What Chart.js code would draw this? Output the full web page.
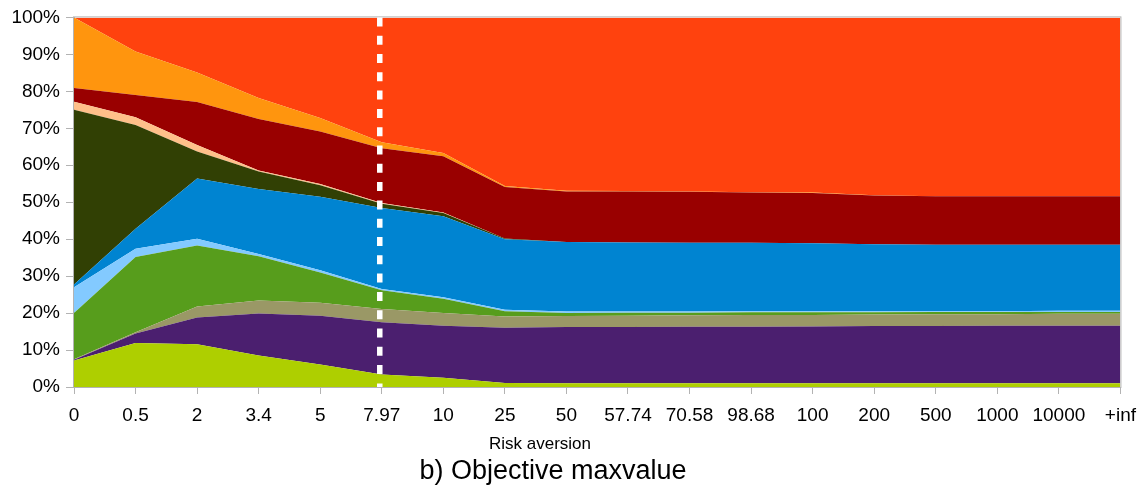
<!DOCTYPE html>
<html>
<head>
<meta charset="utf-8">
<script src="https://cdn.jsdelivr.net/npm/chart.js@4.4.1/dist/chart.umd.min.js"></script>
<style>
  html, body { margin: 0; padding: 0; background: #fff; }
  #wrap { width: 1146px; height: 490px; position: relative; }
</style>
</head>
<body>
<div id="wrap"><canvas id="graph"></canvas></div>
<script>
// categories (x axis)
var riskAversion = ["0", "0.5", "2", "3.4", "5", "7.97", "10", "25", "50",
  "57.74", "70.58", "98.68", "100", "200", "500", "1000", "10000", "+inf"];
var markerAt = "7.97";
var xTitle = "Risk aversion";
var chartTitle = "b) Objective maxvalue";

// shares in %, bottom to top
var lime      = [7.2, 11.9, 11.6, 8.5, 6.1, 3.4, 2.5, 1.1, 1.0, 1.0, 1.0, 1.0, 1.0, 1.0, 1.0, 1.0, 1.0, 1.0];
var purple    = [0.2, 2.6, 7.2, 11.4, 13.2, 14.1, 14.1, 14.9, 15.2, 15.2, 15.3, 15.3, 15.4, 15.5, 15.5, 15.6, 15.6, 15.6];
var khaki     = [0.1, 0.3, 3.0, 3.5, 3.5, 3.6, 3.4, 3.1, 3.0, 3.1, 3.1, 3.2, 3.1, 3.1, 3.2, 3.1, 3.2, 3.2];
var green     = [12.5, 20.4, 16.5, 12.0, 8.2, 5.1, 3.9, 1.4, 0.8, 0.8, 0.7, 0.7, 0.7, 0.6, 0.6, 0.6, 0.5, 0.5];
var lightBlue = [7.0, 2.2, 1.8, 0.6, 0.6, 0.3, 0.4, 0.4, 0.4, 0.3, 0.3, 0.3, 0.3, 0.3, 0.2, 0.2, 0.3, 0.3];
var blue      = [0.7, 5.4, 16.3, 17.6, 19.9, 21.9, 21.9, 19.1, 18.8, 18.7, 18.6, 18.5, 18.4, 18.1, 18.0, 18.0, 17.9, 17.9];
var darkOlive = [47.3, 28.1, 7.3, 4.7, 3.1, 1.2, 0.9, 0.2, 0, 0, 0, 0, 0, 0, 0, 0, 0, 0];
var peach     = [2.2, 2.1, 1.8, 0.3, 0.3, 0.2, 0.1, 0, 0, 0, 0, 0, 0, 0, 0, 0, 0, 0];
var darkRed   = [3.7, 6.0, 11.6, 13.9, 14.2, 14.8, 15.2, 13.9, 13.7, 13.8, 13.8, 13.6, 13.6, 13.2, 13.1, 13.1, 13.1, 13.1];
var orange    = [19.1, 11.8, 8.0, 5.7, 3.7, 1.6, 0.9, 0.3, 0.2, 0.1, 0.1, 0.1, 0.1, 0.1, 0, 0, 0, 0];
var redOrange = [0, 9.2, 14.9, 21.8, 27.2, 33.8, 36.7, 45.6, 46.9, 47.0, 47.1, 47.3, 47.4, 48.1, 48.4, 48.4, 48.4, 48.4];

var series = [
  [lime, "#aecf00"],
  [purple, "#4b1f6f"],
  [khaki, "#9a9866"],
  [green, "#579d1c"],
  [lightBlue, "#83caff"],
  [blue, "#0084d1"],
  [darkOlive, "#314004"],
  [peach, "#ffc08a"],
  [darkRed, "#990000"],
  [orange, "#ff950e"],
  [redOrange, "#ff420e"]
];

var datasets = series.map(function (s, i) {
  return {
    data: s[0],
    backgroundColor: s[1],
    borderColor: s[1],
    borderWidth: 0,
    pointRadius: 0,
    tension: 0,
    fill: i === 0 ? 'origin' : '-1'
  };
});

var axisGrey = "#b3b3b3";
var font = "'Liberation Sans', Arial, sans-serif";

var overlay = {
  id: 'overlay',
  afterDatasetsDraw: function (chart) {
    var c = chart.ctx, a = chart.chartArea;
    c.save();
    c.strokeStyle = axisGrey;
    c.lineWidth = 1;
    c.strokeRect(a.left - 0.5, a.top - 0.5, a.right - a.left + 1, a.bottom - a.top + 1);
    // dashed marker at the chosen risk aversion
    var x = chart.scales.x.getPixelForValue(riskAversion.indexOf(markerAt)) - 2;
    c.strokeStyle = "#ffffff";
    c.lineWidth = 5.5;
    c.setLineDash([9, 9.3]);
    c.beginPath();
    c.moveTo(x, a.top);
    c.lineTo(x, a.bottom);
    c.stroke();
    c.restore();
  },
  afterDraw: function (chart) {
    var c = chart.ctx;
    c.save();
    c.fillStyle = "#000";
    c.textAlign = "center";
    c.textBaseline = "middle";
    c.font = "17px " + font;
    c.fillText(xTitle, 540, 444);
    c.font = "27px " + font;
    c.fillText(chartTitle, 553, 472);
    c.restore();
  }
};

var ctx = document.getElementById("graph").getContext('2d');
var myChart = new Chart(ctx, {
  type: 'line',
  data: { labels: riskAversion, datasets: datasets },
  plugins: [overlay],
  options: {
    responsive: true,
    maintainAspectRatio: false,
    animation: false,
    layout: { padding: { top: 17, right: 25, left: 0, bottom: 0 } },
    plugins: { legend: { display: false }, tooltip: { enabled: false } },
    scales: {
      x: {
        offset: false,
        afterFit: function (scale) { scale.height = 103; },
        grid: { drawOnChartArea: false, tickLength: 7, color: axisGrey },
        border: { display: true, color: axisGrey },
        ticks: { color: "#000", padding: 10, maxRotation: 0, minRotation: 0, autoSkip: false,
          font: { family: font, size: 19 } }
      },
      y: {
        stacked: true,
        min: 0,
        max: 100,
        afterFit: function (scale) { scale.width = 74; },
        grid: { drawOnChartArea: false, tickLength: 8, color: axisGrey },
        border: { display: true, color: axisGrey },
        ticks: { color: "#000", padding: 6, stepSize: 10,
          callback: function (v) { return v + "%"; },
          font: { family: font, size: 19 } }
      }
    }
  }
});
</script>
</body>
</html>
